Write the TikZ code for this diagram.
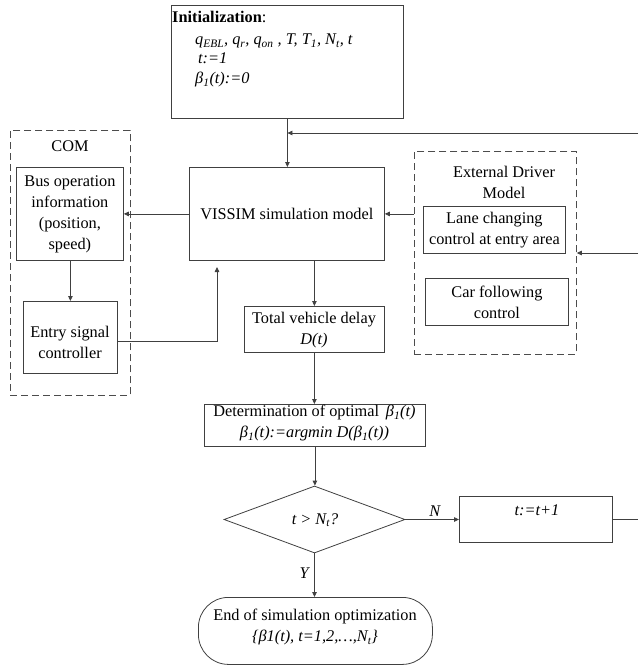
\documentclass[tikz,border=0pt]{standalone}
\usepackage{fontspec}
\setmainfont{Liberation Serif}
\usetikzlibrary{arrows.meta,shapes.geometric,positioning}
\newcommand\lo[1]{\textsubscript{#1}}
\begin{document}
\begin{tikzpicture}[x=1pt,y=-1pt,
  font=\fontsize{16.3}{21}\selectfont,
  line/.style={draw=black!75, line width=0.8pt},
  arr/.style={line, -{Triangle[length=5pt,width=4.5pt]}},
  box/.style={line, anchor=north west, inner sep=0pt, align=center},
  dbox/.style={draw=black!70, line width=0.8pt, dash pattern=on 7pt off 4pt, anchor=north west, inner sep=0pt},
  txt/.style={inner sep=0pt, align=center}]
\useasboundingbox (0,0) rectangle (638,666);

% Initialization
\node[box, minimum width=232pt, minimum height=113pt] (init) at (171,5) {};
\node[anchor=base west, inner sep=0pt] (it1) at (172,23) {\textbf{Initialization}:};
\node[anchor=base west, inner sep=0pt] (it2) at (195,45) {\itshape q\lo{EBL}, q\lo{r}, q\lo{on} , T, T\lo{1}, N\lo{t}, t};
\node[anchor=base west, inner sep=0pt] (it3) at (198,64) {\itshape t:=1};
\node[anchor=base west, inner sep=0pt] (it4) at (195,84) {\itshape β\lo{1}(t):=0};

% VISSIM
\node[box, minimum width=195pt, minimum height=93pt] (vis) at (189,167) {};
\node[txt] (vist) at (vis.center) {VISSIM simulation model};

% COM
\node[dbox, minimum width=120pt, minimum height=265pt] (com) at (10,130) {};
\node[txt] (comt) at (70,146) {COM};
\node[box, minimum width=107pt, minimum height=93pt] (bus) at (16,167) {};
\node[txt] (bust) at (bus.center) {Bus operation\\information\\(position,\\speed)};
\node[box, minimum width=94pt, minimum height=72pt] (ent) at (23,301) {};
\node[txt] (entt) at (70,342) {Entry signal\\controller};

% Total delay
\node[box, minimum width=140pt, minimum height=46pt] (tot) at (244,306) {};
\node[txt] (tott) at (314,330) {Total vehicle delay\\\itshape D(t)};

% External driver model
\node[dbox, minimum width=162pt, minimum height=203pt] (edm) at (414,151) {};
\node[txt] (edmt) at (504,182) {External Driver\\Model};
\node[box, minimum width=142pt, minimum height=47pt] (lane) at (423,206) {};
\node[txt] (lanet) at (lane.center) {Lane changing\\control at entry area};
\node[box, minimum width=143pt, minimum height=47pt] (car) at (425,278) {};
\node[txt] (cart) at (car.center) {Car following\\control};

% Determination
\node[box, minimum width=221pt, minimum height=42pt] (det) at (204,404) {};
\node[txt] (dett) at (314.5,423) {Determination of optimal \,\textit{β\lo{1}(t)}\\\itshape β\lo{1}(t):=argmin D(β\lo{1}(t))};

% Decision
\node[diamond, line, minimum width=181pt, minimum height=67pt, inner sep=0pt] (dia) at (314.5,519.5) {};
\node[txt] (diat) at (315,520) {\itshape t > N\lo{t}?};

% t:=t+1
\node[box, minimum width=153pt, minimum height=46pt] (tb) at (459,496) {};
\node[txt] (tbt) at (537,510) {\itshape t:=t+1};

% End
\node[box, rounded corners=30pt, minimum width=234pt, minimum height=67pt] (end) at (198,597) {};
\node[txt] (endt) at (315,627) {End of simulation optimization\\\itshape \{β1(t), t=1,2,…,N\lo{t}\}};

% right-edge coordinates
\coordinate (fb1) at (638,133);
\coordinate (fb2) at (638,253);
\coordinate (fb3) at (638,519.5);
\coordinate (up) at (217,267);

% connectors
\draw[arr] (init.south) -- (init.south |- vis.north);
\draw[arr] (fb1) -- (fb1 -| init.south);
\draw[arr] (vis.west) -- (vis.west -| bus.east);
\draw[arr] (vis.east -| edm.west) -- (vis.east);
\draw[arr] (fb2) -- (fb2 -| edm.east);
\draw[arr] (bus.south -| ent.north) -- (ent.north);
\draw[arr] (ent.east |- 0,341) -| (up);
\draw[arr] (tot.north |- vis.south) -- (tot.north);
\draw[arr] (tot.south) -- (tot.south |- det.north);
\draw[arr] (det.south) -- (det.south |- dia.north);
\draw[arr] (dia.east) -- node[above=-1pt, pos=0.55, font=\fontsize{16.3}{21}\selectfont\itshape] (nlab) {N} (dia.east -| tb.west);
\draw[line] (tb.east |- fb3) -- (fb3);
\draw[arr] (dia.south) -- node[left=2pt, pos=0.45, font=\fontsize{16.3}{21}\selectfont\itshape] (ylab) {Y} (dia.south |- end.north);
\end{tikzpicture}
\end{document}
